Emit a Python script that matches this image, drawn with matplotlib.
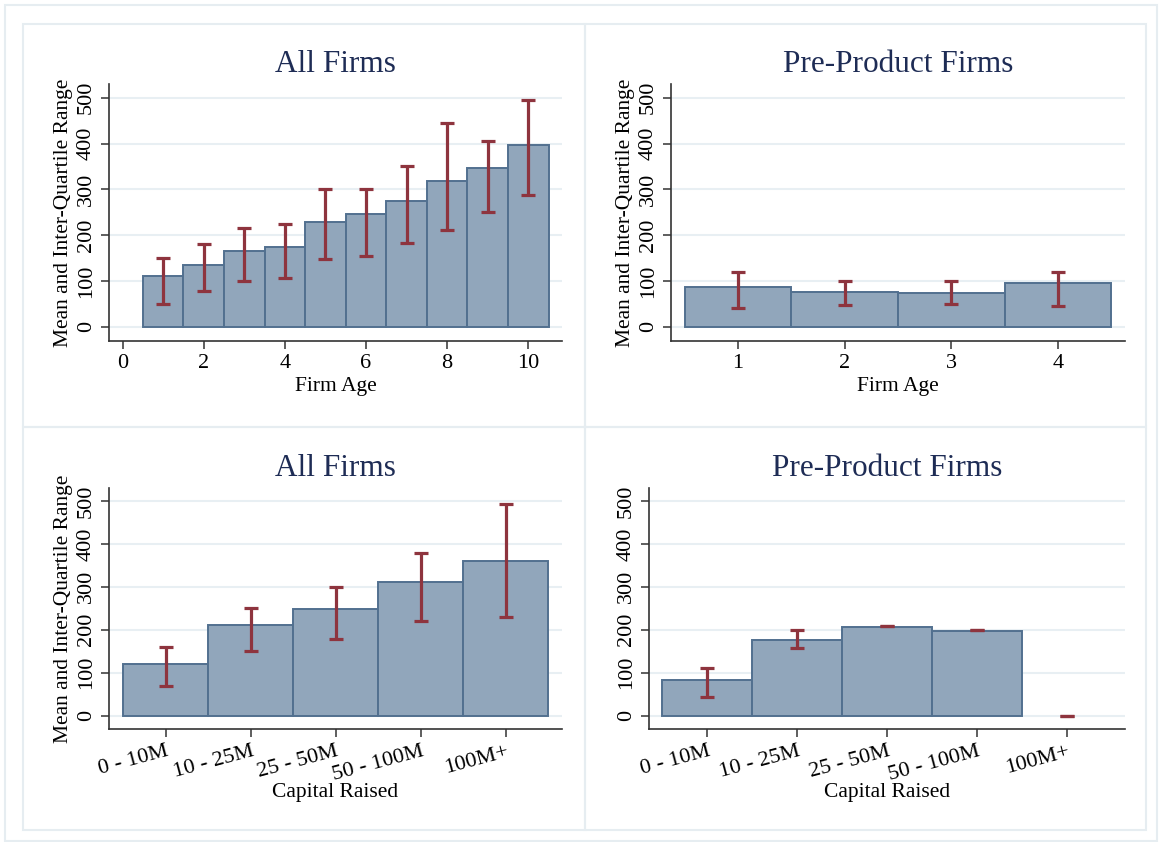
import numpy as np
import matplotlib.pyplot as plt
from matplotlib.patches import Rectangle

plt.rcParams['font.family'] = 'Liberation Serif'

# firm age, all firms
age_all = [1, 2, 3, 4, 5, 6, 7, 8, 9, 10]
age_all_mean = [111, 135, 166, 175, 229, 247, 275, 319, 347, 397]
age_all_p25 = [50, 79, 99, 107, 149, 155, 184, 212, 250, 287]
age_all_p75 = [150, 180, 215, 224, 300, 300, 351, 445, 405, 496]

# firm age, pre-product firms
age_pre = [1, 2, 3, 4]
age_pre_mean = [87, 76, 74, 96]
age_pre_p25 = [40, 47, 49, 45]
age_pre_p75 = [119, 100, 100, 119]

# capital raised buckets
cap_labels = ['0 - 10M', '10 - 25M', '25 - 50M', '50 - 100M', '100M+']
cap_pos = [1, 2, 3, 4, 5]
cap_all_mean = [121, 210, 248, 311, 360]
cap_all_p25 = [69, 150, 179, 220, 229]
cap_all_p75 = [160, 250, 300, 378, 493]

cap_pre_mean = [82, 177, 207, 198, np.nan]
cap_pre_p25 = [44, 157, 209, 200, 0]
cap_pre_p75 = [110, 199, 209, 200, 0]

W, H = 1159, 842
BAR = '#91a6bb'
EDGE = '#52708f'
ERR = '#8e343e'
TITLE = '#1e2c55'
FRAME = '#e6edf1'
GRID = '#e8eff3'


def px_axes(x0, y0, x1, y1):
    # pixel box (top-left origin) -> figure fraction rect
    return [x0 / W, 1 - y1 / H, (x1 - x0) / W, (y1 - y0) / H]


fig = plt.figure(figsize=(W / 100, H / 100), dpi=100)

# outer frame and panel frames
frames = [(5, 5, 1157, 841), (23, 24, 585, 427), (585, 24, 1146, 427),
          (23, 427, 585, 830), (585, 427, 1146, 830)]
for x0, y0, x1, y1 in frames:
    fig.patches.append(Rectangle((x0 / W, 1 - y1 / H), (x1 - x0) / W, (y1 - y0) / H,
                                 transform=fig.transFigure, fill=False,
                                 edgecolor=FRAME, linewidth=1.5))


def panel(rect, x, mean, p25, p75, title, xlabel, xlim, ylabel=True, xpad=3):
    ax = fig.add_axes(rect)
    ax.bar(x, mean, width=1, color=BAR, edgecolor=EDGE, linewidth=1.4, zorder=2)
    p25 = np.array(p25, dtype=float)
    p75 = np.array(p75, dtype=float)
    ax.errorbar(x, (p25 + p75) / 2, yerr=(p75 - p25) / 2, fmt='none',
                ecolor=ERR, elinewidth=2.3, capsize=4.7, capthick=2.3, zorder=3)
    ax.set_xlim(*xlim)
    ax.set_ylim(-31, 530)
    ax.set_yticks([0, 100, 200, 300, 400, 500])
    ax.yaxis.grid(True, color=GRID, linewidth=1.5, zorder=0)
    ax.set_axisbelow(True)
    for s in ['top', 'right']:
        ax.spines[s].set_visible(False)
    for s in ['left', 'bottom']:
        ax.spines[s].set_color('#333333')
        ax.spines[s].set_linewidth(1.2)
    ax.tick_params(axis='both', length=6, width=1.1, color='#333333', labelsize=16)
    ax.tick_params(axis='y', pad=3.5)
    for lab in ax.get_yticklabels():
        lab.set_rotation(90)
        lab.set_va('center')
    ax.set_title(title, color=TITLE, fontsize=22.5, pad=9)
    ax.set_xlabel(xlabel, fontsize=15.5, labelpad=xpad)
    if ylabel:
        ax.set_ylabel('Mean and Inter-Quartile Range', fontsize=15.5, labelpad=3)
    return ax


ax1 = panel(px_axes(109, 84, 562, 341), age_all, age_all_mean, age_all_p25, age_all_p75,
            'All Firms', 'Firm Age', (-0.335, 10.83))
ax1.set_xticks([0, 2, 4, 6, 8, 10])

ax2 = panel(px_axes(671, 84, 1125, 341), age_pre, age_pre_mean, age_pre_p25, age_pre_p75,
            'Pre-Product Firms', 'Firm Age', (0.37, 4.63))
ax2.set_xticks(age_pre)

ax3 = panel(px_axes(109, 488, 562, 729), cap_pos, cap_all_mean, cap_all_p25, cap_all_p75,
            'All Firms', 'Capital Raised', (0.33, 5.66), xpad=-1)
ax4 = panel(px_axes(649, 488, 1125, 729), cap_pos, cap_pre_mean, cap_pre_p25, cap_pre_p75,
            'Pre-Product Firms', 'Capital Raised', (0.35, 5.65), ylabel=False, xpad=-1)
for ax in (ax3, ax4):
    ax.set_xticks(cap_pos)
    ax.set_xticklabels(cap_labels, rotation=15, ha='right', va='top',
                       rotation_mode='anchor', fontsize=16)

fig.savefig('out.png', dpi=100, facecolor='white')
